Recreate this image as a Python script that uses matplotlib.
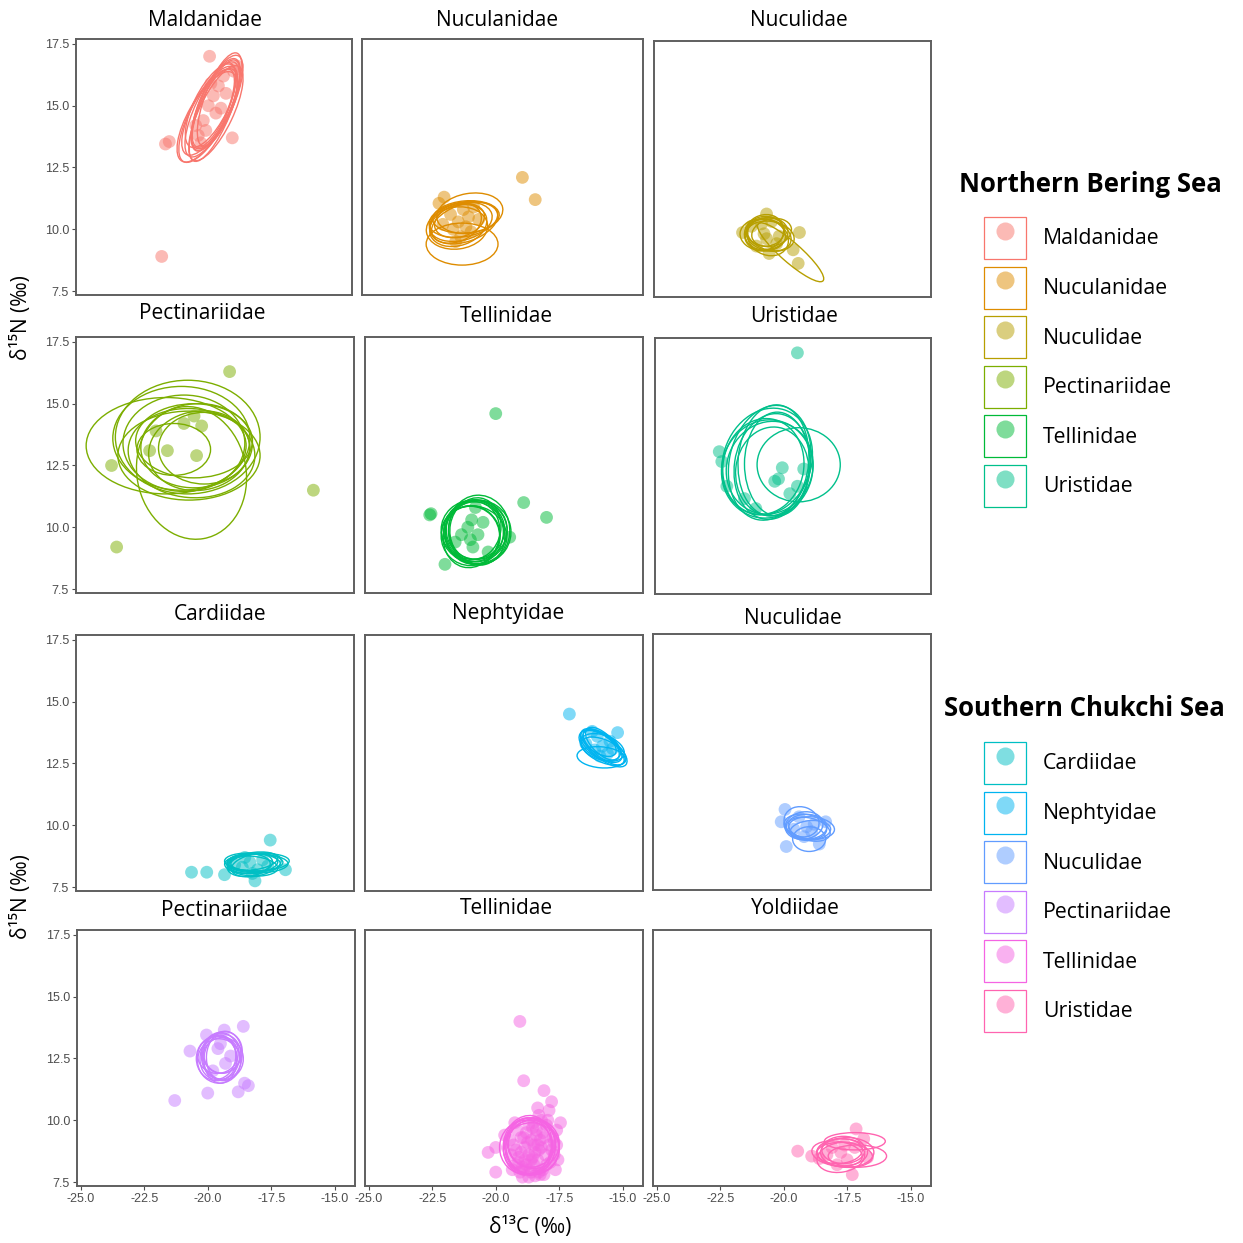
import matplotlib
matplotlib.use("Agg")
import matplotlib.pyplot as plt
from matplotlib.patches import Ellipse, Patch
from matplotlib.lines import Line2D
from matplotlib.legend_handler import HandlerTuple

plt.rcParams["font.family"] = ["Open Sans", "DejaVu Sans"]

# ---------------------------------------------------------------- data
# ellipses are (centre x, centre y, width, height, angle) in data units

# Northern Bering Sea
MALD_N_X = [-19.85, -18.75, -21.6, -21.45, -18.95, -21.75, -20.3, -20.1, -19.9, -19.7,
            -19.5, -19.3, -20.0, -19.6, -19.2, -20.2, -19.8, -19.4, -18.9, -20.4]
MALD_N_Y = [17.0, 16.6, 13.45, 13.55, 13.7, 8.9, 13.8, 14.4, 15.0, 15.4,
            15.8, 16.2, 14.0, 14.7, 15.5, 13.5, 15.9, 14.9, 16.4, 14.2]
MALD_N_ELL = [(-19.75, 14.85, 4.2, 1.35, 65), (-19.60, 15.05, 4.0, 1.25, 67),
              (-19.90, 14.65, 4.3, 1.45, 63), (-19.70, 14.95, 3.8, 1.20, 69),
              (-19.55, 15.15, 4.1, 1.30, 66), (-19.85, 14.75, 3.9, 1.40, 62),
              (-19.65, 14.80, 4.4, 1.25, 68), (-19.80, 15.00, 3.7, 1.35, 64),
              (-19.45, 15.25, 4.0, 1.20, 70), (-19.95, 14.55, 4.1, 1.50, 61),
              (-19.70, 14.90, 3.4, 1.10, 67), (-19.60, 14.70, 4.2, 1.35, 65)]

NUCA_N_X = [-18.9, -18.4, -22.15, -21.95, -21.7, -21.4, -21.2, -21.0, -20.8, -21.6,
            -21.3, -20.6, -22.0, -21.1, -21.5, -20.9]
NUCA_N_Y = [12.1, 11.2, 11.05, 11.3, 10.6, 10.3, 10.8, 10.5, 10.9, 10.0,
            9.7, 10.4, 10.2, 10.1, 9.5, 9.9]
NUCA_N_ELL = [(-21.3, 10.30, 2.5, 1.5, 15), (-21.2, 10.40, 2.7, 1.4, 10),
              (-21.4, 10.15, 2.3, 1.6, 20), (-21.1, 10.50, 2.6, 1.3, 5),
              (-21.5, 10.25, 2.1, 1.5, 25), (-21.25, 9.40, 2.8, 1.7, 0),
              (-20.95, 10.65, 2.6, 1.6, 10), (-21.35, 10.35, 2.0, 1.3, 18),
              (-21.45, 10.05, 2.4, 1.7, 8), (-21.15, 10.25, 2.7, 1.5, 20)]

NUCU_N_X = [-20.7, -19.4, -19.45, -20.7, -21.65, -20.9, -20.5, -20.3, -21.1, -20.6,
            -20.2, -20.8, -21.3, -19.65]
NUCU_N_Y = [9.7, 9.95, 8.7, 10.7, 9.95, 10.3, 10.4, 9.5, 9.4, 9.1,
            9.8, 9.9, 10.2, 9.25]
NUCU_N_ELL = [(-20.70, 9.90, 1.7, 1.3, 10), (-20.60, 9.85, 1.8, 1.2, -20),
              (-20.80, 9.95, 1.6, 1.4, 30), (-20.55, 9.80, 1.9, 1.2, -10),
              (-20.75, 10.00, 1.5, 1.2, 0), (-20.65, 9.75, 1.7, 1.4, -30),
              (-20.50, 9.95, 1.6, 1.1, 15), (-20.85, 9.85, 1.8, 1.3, -5),
              (-19.75, 9.15, 3.45, 0.8, -42)]

PECT_N_X = [-19.1, -15.8, -23.55, -23.75, -22.0, -22.25, -21.55, -20.9, -20.5, -20.2, -20.4]
PECT_N_Y = [16.3, 11.5, 9.2, 12.5, 13.9, 13.1, 13.1, 14.2, 14.5, 14.1, 12.9]
PECT_N_ELL = [(-21.6, 13.3, 6.3, 3.9, 0), (-20.6, 12.2, 4.3, 5.4, 10),
              (-20.75, 13.65, 5.7, 4.6, 0), (-21.3, 13.15, 2.9, 2.1, 0),
              (-20.4, 13.3, 4.4, 3.4, 5), (-20.6, 13.0, 5.0, 3.6, -5),
              (-20.9, 13.4, 4.8, 3.9, 0), (-20.3, 13.1, 4.0, 3.2, 10),
              (-21.0, 13.6, 5.4, 4.2, 0), (-20.5, 13.5, 4.6, 3.0, 0),
              (-20.7, 12.9, 5.6, 3.6, 0), (-20.1, 13.2, 3.6, 2.9, 0)]

TELL_N_X = [-20.0, -18.9, -18.0, -22.55, -22.6, -22.0, -19.45, -20.95, -20.7, -21.35,
            -20.9, -21.1, -20.5, -21.6, -20.3, -21.0, -20.8]
TELL_N_Y = [14.6, 11.0, 10.4, 10.55, 10.5, 8.5, 9.6, 10.3, 9.7, 9.7,
            9.2, 10.0, 10.2, 9.4, 9.0, 9.5, 10.8]
TELL_N_ELL = [(-20.85, 9.80, 2.3, 2.6, 0), (-20.75, 9.90, 2.4, 2.4, 20),
              (-20.95, 9.70, 2.2, 2.7, -15), (-20.80, 9.85, 2.5, 2.5, 0),
              (-20.90, 9.75, 2.1, 2.3, 30), (-20.70, 9.80, 2.6, 2.6, 10),
              (-20.80, 9.95, 2.0, 2.5, -10), (-21.00, 9.65, 2.3, 2.4, 0),
              (-20.65, 9.90, 2.4, 2.8, 5), (-20.85, 9.70, 2.6, 2.3, -20),
              (-20.75, 9.75, 2.2, 2.6, 15), (-20.90, 9.90, 2.5, 2.4, 0)]

URIS_N_X = [-19.5, -22.6, -22.5, -22.3, -20.1, -19.25, -19.5, -20.25, -21.15, -20.4, -21.6, -19.8]
URIS_N_Y = [17.1, 13.1, 12.7, 11.7, 12.45, 12.4, 11.7, 12.0, 10.8, 11.9, 11.2, 11.4]
URIS_N_ELL = [(-20.6, 12.65, 3.2, 4.7, -12), (-20.5, 12.5, 3.0, 4.3, -8),
              (-20.7, 12.4, 3.6, 4.0, -15), (-20.45, 12.75, 2.8, 4.5, -5),
              (-20.6, 12.45, 3.4, 3.8, -20), (-20.3, 12.6, 2.6, 4.2, 0),
              (-20.85, 12.5, 3.2, 3.9, -10), (-19.45, 12.57, 3.3, 3.0, 0),
              (-20.5, 12.3, 2.9, 3.6, -5), (-20.7, 12.7, 3.5, 4.4, -18)]

# Southern Chukchi Sea
CARD_S_X = [-20.6, -20.0, -17.5, -16.9, -18.1, -19.3, -18.6, -18.3, -18.0, -17.8,
            -18.5, -18.9, -17.6, -18.2]
CARD_S_Y = [8.1, 8.1, 9.4, 8.2, 7.75, 8.0, 8.3, 8.5, 8.2, 8.6,
            8.7, 8.4, 8.35, 8.05]
CARD_S_ELL = [(-18.2, 8.45, 2.0, 0.8, 5), (-18.1, 8.50, 2.2, 0.7, 0),
              (-18.3, 8.40, 1.8, 0.9, 10), (-18.0, 8.45, 2.4, 0.75, 0),
              (-18.25, 8.35, 2.1, 0.8, -5), (-18.15, 8.55, 1.9, 0.7, 8),
              (-17.9, 8.50, 2.3, 0.7, 3), (-18.35, 8.45, 1.7, 0.8, 0),
              (-18.05, 8.40, 2.0, 0.9, 12), (-18.2, 8.50, 2.2, 0.75, -3)]

NEPH_S_X = [-17.1, -15.2, -16.45, -15.8, -16.0, -15.6, -15.4, -16.2, -15.9, -15.5, -16.1]
NEPH_S_Y = [14.5, 13.75, 13.3, 13.2, 13.6, 12.9, 13.1, 13.8, 12.8, 13.4, 13.05]
NEPH_S_ELL = [(-15.85, 13.20, 1.9, 0.9, -35), (-15.75, 13.15, 2.0, 0.8, -40),
              (-15.90, 13.25, 1.8, 1.0, -30), (-15.70, 13.10, 2.1, 0.9, -38),
              (-15.80, 13.30, 1.7, 0.8, -45), (-15.85, 12.75, 1.9, 0.85, -5),
              (-15.75, 13.00, 1.9, 0.9, -25), (-15.95, 13.35, 1.6, 0.8, -35),
              (-15.80, 13.15, 1.8, 1.0, -20)]

NUCU_S_X = [-19.9, -19.95, -20.1, -19.1, -18.35, -18.6, -19.4, -18.9, -19.2, -18.8, -19.6]
NUCU_S_Y = [9.1, 10.6, 10.1, 9.9, 10.1, 9.2, 10.3, 9.7, 9.5, 10.0, 9.8]
NUCU_S_ELL = [(-19.1, 9.90, 1.6, 1.0, 0), (-19.0, 9.80, 1.7, 0.9, -15),
              (-19.2, 9.95, 1.5, 1.1, 10), (-18.9, 9.85, 1.8, 0.9, -5),
              (-19.3, 10.10, 1.4, 1.2, -20), (-19.0, 9.40, 1.3, 1.0, 0),
              (-18.95, 9.75, 1.6, 0.8, 5), (-19.15, 9.90, 1.7, 1.0, -10)]

PECT_S_X = [-18.6, -21.3, -20.7, -20.05, -19.35, -20.0, -18.8, -18.55, -18.4, -19.6,
            -19.3, -19.8, -19.5, -19.1]
PECT_S_Y = [13.8, 10.8, 12.8, 13.45, 13.65, 11.1, 11.15, 11.5, 11.4, 12.9,
            12.3, 12.0, 13.1, 12.6]
PECT_S_ELL = [(-19.5, 12.60, 1.5, 1.9, 0), (-19.4, 12.50, 1.6, 1.7, 10),
              (-19.6, 12.55, 1.4, 1.8, -10), (-19.45, 12.70, 1.5, 1.6, 0),
              (-19.55, 12.40, 1.7, 1.8, 5), (-19.35, 12.60, 1.4, 2.0, -5),
              (-19.6, 12.65, 1.6, 1.5, 15), (-19.5, 12.45, 1.3, 1.9, 0),
              (-19.4, 12.75, 1.5, 1.7, -15), (-19.65, 12.50, 1.6, 1.8, 0)]

TELL_S_X = [-19.05, -18.9, -18.1, -17.8, -18.35, -17.9, -17.45, -19.25, -19.65, -20.3,
            -20.0, -20.0, -19.3, -19.1, -18.9, -18.7, -18.5, -18.3, -18.1, -17.9,
            -17.7, -17.6, -18.0, -18.2, -18.4, -18.6, -18.8, -19.0, -19.2, -19.4,
            -18.95, -18.6, -18.35, -18.15, -17.85, -17.65, -18.7, -18.5, -18.25, -18.85,
            -19.05, -18.45, -18.05, -17.75, -18.55, -19.15, -18.3, -17.95, -18.8, -19.35,
            -18.1, -17.55, -19.0, -18.75, -18.55, -18.4, -18.2, -18.0, -18.65, -18.9,
            -19.2, -18.45, -18.3, -17.8, -18.7, -19.1, -18.15, -18.6, -18.35, -17.7,
            -19.45, -18.85, -18.5, -17.6, -18.95, -18.25]
TELL_S_Y = [14.0, 11.6, 11.2, 10.75, 10.5, 10.4, 9.9, 9.9, 9.4, 8.7,
            8.9, 7.9, 9.0, 8.5, 8.0, 7.7, 8.2, 8.8, 9.3, 9.0,
            8.6, 9.6, 9.8, 10.0, 9.6, 9.2, 9.5, 9.3, 8.2, 8.6,
            7.7, 7.9, 8.4, 8.0, 8.3, 8.0, 8.6, 9.0, 9.2, 8.9,
            7.9, 7.75, 8.6, 9.3, 9.7, 9.6, 10.2, 10.0, 8.2, 8.0,
            7.8, 8.4, 8.7, 9.1, 8.5, 9.4, 8.9, 8.2, 8.0, 9.3,
            8.8, 8.7, 7.9, 8.8, 9.8, 8.3, 9.5, 8.4, 9.0, 9.1,
            9.2, 8.4, 9.9, 9.0, 8.1, 7.8]
TELL_S_ELL = [(-18.65, 8.95, 2.0, 2.3, 0), (-18.55, 8.90, 2.1, 2.2, 10),
              (-18.75, 9.00, 1.9, 2.4, -10), (-18.60, 8.85, 2.2, 2.1, 0),
              (-18.70, 8.95, 1.8, 2.3, 5), (-18.50, 9.05, 2.0, 2.0, 15),
              (-18.80, 8.90, 2.1, 2.2, 0), (-18.60, 9.10, 1.9, 2.0, -5)]

YOLD_S_X = [-19.45, -18.9, -17.15, -16.85, -16.7, -17.3, -17.75, -18.1, -17.5, -17.9,
            -18.3, -17.2, -17.6, -18.6]
YOLD_S_Y = [8.75, 8.55, 9.65, 9.25, 8.5, 7.8, 8.7, 8.9, 8.4, 8.2,
            8.6, 8.9, 9.0, 8.45]
YOLD_S_ELL = [(-17.7, 8.70, 2.0, 1.1, 0), (-17.8, 8.75, 1.8, 1.0, 5),
              (-17.6, 8.60, 2.2, 1.0, -5), (-17.2, 9.15, 2.4, 0.7, 0),
              (-17.1, 8.55, 2.3, 0.9, 0), (-17.75, 8.50, 1.9, 1.2, 10),
              (-17.65, 8.80, 1.7, 1.1, 0), (-17.9, 8.65, 2.0, 1.0, -8),
              (-17.5, 8.70, 2.1, 1.2, 0)]

PANEL_TITLES = ["Maldanidae", "Nuculanidae", "Nuculidae",
                "Pectinariidae", "Tellinidae", "Uristidae",
                "Cardiidae", "Nephtyidae", "Nuculidae",
                "Pectinariidae", "Tellinidae", "Yoldiidae"]
PANEL_DATA = [(MALD_N_X, MALD_N_Y, MALD_N_ELL), (NUCA_N_X, NUCA_N_Y, NUCA_N_ELL),
              (NUCU_N_X, NUCU_N_Y, NUCU_N_ELL), (PECT_N_X, PECT_N_Y, PECT_N_ELL),
              (TELL_N_X, TELL_N_Y, TELL_N_ELL), (URIS_N_X, URIS_N_Y, URIS_N_ELL),
              (CARD_S_X, CARD_S_Y, CARD_S_ELL), (NEPH_S_X, NEPH_S_Y, NEPH_S_ELL),
              (NUCU_S_X, NUCU_S_Y, NUCU_S_ELL), (PECT_S_X, PECT_S_Y, PECT_S_ELL),
              (TELL_S_X, TELL_S_Y, TELL_S_ELL), (YOLD_S_X, YOLD_S_Y, YOLD_S_ELL)]

NBS_LABELS = ["Maldanidae", "Nuculanidae", "Nuculidae", "Pectinariidae", "Tellinidae", "Uristidae"]
SCS_LABELS = ["Cardiidae", "Nephtyidae", "Nuculidae", "Pectinariidae", "Tellinidae", "Uristidae"]
COLORS = ["#F8766D", "#DE8C00", "#B79F00", "#7CAE00", "#00BA38", "#00C08B",
          "#00BFC4", "#00B4F0", "#619CFF", "#C77CFF", "#F564E3", "#FF64B0"]

X_TICKS = [-25.0, -22.5, -20.0, -17.5, -15.0]
Y_TICKS = [7.5, 10.0, 12.5, 15.0, 17.5]

# ---------------------------------------------------------------- layout (pixels)
W = H = 1243
DPI = 100
PANEL_BOXES = [(76, 39, 352, 295), (362, 39, 643, 295), (654, 41, 931, 297),
               (76, 337, 354, 593), (365, 337, 643, 593), (655, 338, 931, 594),
               (76, 635, 354, 891), (365, 635, 643, 891), (653, 634, 931, 890),
               (77, 930, 355, 1186), (365, 930, 643, 1186), (653, 930, 931, 1186)]
TITLE_POS = [(205, 20), (497, 20), (799, 20),
             (202, 314), (506, 317), (794, 317),
             (220, 614), (508, 614), (793, 619),
             (224, 910), (506, 909), (795, 908)]
XLIM = (-25.15, -14.2)
YLIM = (7.34, 17.7)
SPINE = "#5f5f5f"
TICK_COLOR = "#4d4d4d"


def fx(px):
    return px / W


def fy(py):
    return 1 - py / H


fig = plt.figure(figsize=(W / DPI, H / DPI), dpi=DPI)

for i, (title, (xs, ys, ells), box) in enumerate(zip(PANEL_TITLES, PANEL_DATA, PANEL_BOXES)):
    l, t, r, b = box
    ax = fig.add_axes([fx(l), fy(b), (r - l) / W, (b - t) / H])
    color = COLORS[i]
    ax.scatter(xs, ys, s=85, color=color, alpha=0.5, edgecolors="none", zorder=2)
    for cx, cy, w, h, ang in ells:
        ax.add_patch(Ellipse((cx, cy), w, h, angle=ang, fill=False,
                             edgecolor=color, linewidth=1.0, zorder=3))
    ax.set_xlim(*XLIM)
    ax.set_ylim(*YLIM)
    for sp in ax.spines.values():
        sp.set_color(SPINE)
        sp.set_linewidth(1.4)
    col, row = i % 3, i // 3
    ax.set_xticks(X_TICKS)
    ax.set_yticks(Y_TICKS)
    ax.set_xticklabels([f"{v:.1f}" for v in X_TICKS])
    ax.set_yticklabels([f"{v:.1f}" for v in Y_TICKS])
    ax.tick_params(colors=TICK_COLOR, labelsize=9, length=3, width=0.8, pad=2,
                   bottom=(row == 3), labelbottom=(row == 3),
                   left=(col == 0), labelleft=(col == 0))
    for lab in ax.get_xticklabels() + ax.get_yticklabels():
        lab.set_family("Liberation Sans")
    tx, ty = TITLE_POS[i]
    fig.text(fx(tx), fy(ty), title, ha="center", va="center", fontsize=15)

# axis labels
fig.text(fx(22), fy(318), "δ¹⁵N (‰)", rotation=90, ha="center", va="center", fontsize=15)
fig.text(fx(22), fy(897), "δ¹⁵N (‰)", rotation=90, ha="center", va="center", fontsize=15)
fig.text(fx(530), fy(1228), "δ¹³C (‰)", ha="center", va="center", fontsize=15)


def add_legend(labels, colors, title, title_xy, anchor_xy):
    handles = []
    for c in colors:
        box = Patch(facecolor="white", edgecolor=c, linewidth=0.9)
        dot = Line2D([], [], linestyle="none", marker="o", markersize=13,
                     markerfacecolor=c, markeredgecolor="none", alpha=0.5)
        handles.append((box, dot))
    fig.legend(handles, labels, handler_map={tuple: HandlerTuple(ndivide=1, pad=0)},
               loc="upper left", bbox_to_anchor=(fx(anchor_xy[0]), fy(anchor_xy[1])),
               frameon=False, fontsize=15.3, handlelength=1.976, handleheight=2.663,
               labelspacing=0.357, handletextpad=0.8, borderpad=0, borderaxespad=0)
    fig.text(fx(title_xy[0]), fy(title_xy[1]), title, ha="center", va="center",
             fontsize=18.5, fontweight="bold")


add_legend(NBS_LABELS, COLORS[:6], "Northern Bering Sea", (1090, 184), (984, 217))
add_legend(SCS_LABELS, COLORS[6:], "Southern Chukchi Sea", (1084, 708), (984, 742))

fig.savefig("out.png", dpi=DPI)
